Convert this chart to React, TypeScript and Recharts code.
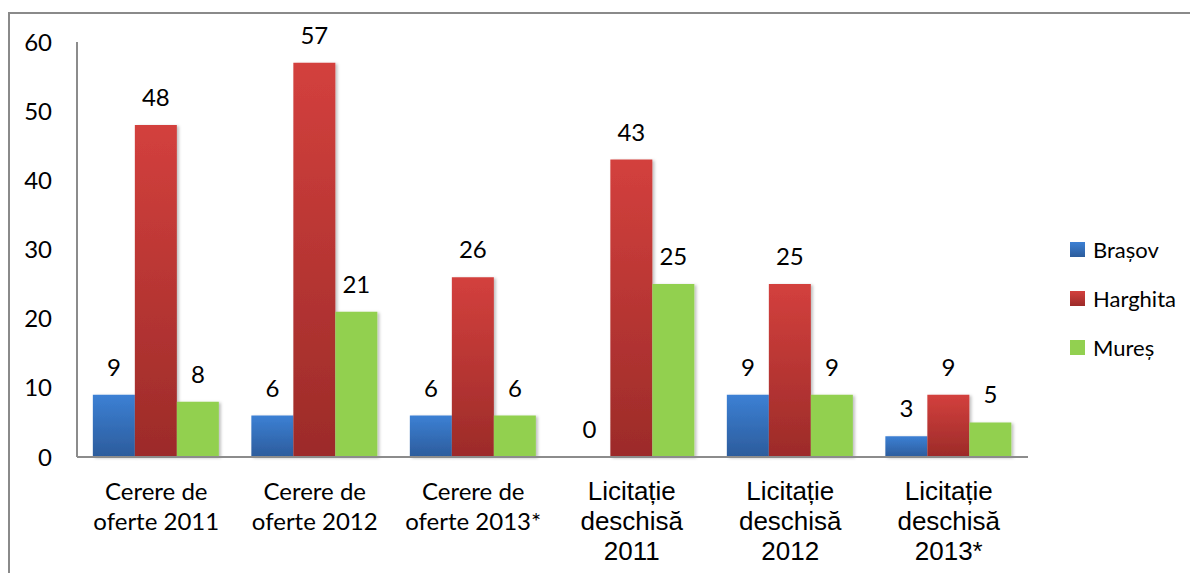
import { BarChart, Bar, XAxis, YAxis, Legend, LabelList } from 'recharts';

const categories = [
  'Cerere de\noferte 2011',
  'Cerere de\noferte 2012',
  'Cerere de\noferte 2013*',
  'Licitație\ndeschisă\n2011',
  'Licitație\ndeschisă\n2012',
  'Licitație\ndeschisă\n2013*',
];
const brasov = [9, 6, 6, 0, 9, 3];
const harghita = [48, 57, 26, 43, 25, 9];
const mures = [8, 21, 6, 25, 9, 5];
const yTicks = [0, 10, 20, 30, 40, 50, 60];

const seriesInfo = [
  { key: 'brasov', name: 'Brașov', fill: 'url(#gBlue)', swatch: 'url(#gBlueL)' },
  { key: 'harghita', name: 'Harghita', fill: 'url(#gRed)', swatch: 'url(#gRedL)' },
  { key: 'mures', name: 'Mureș', fill: '#92d050', swatch: '#92d050' },
];

const data = categories.map((c, i) => ({
  name: c,
  brasov: brasov[i],
  harghita: harghita[i],
  mures: mures[i],
}));

const calibri = 'Lato, "Open Sans", sans-serif';
const arial = '"Liberation Sans", Arial, sans-serif';

function CategoryTick(props: any) {
  const { x, y, payload } = props;
  const lines = String(payload.value).split('\n');
  const isArial = lines[0].startsWith('Licita');
  return (
    <text
      x={x}
      y={y}
      textAnchor="middle"
      fill="#000"
      fontFamily={isArial ? arial : calibri}
      fontSize={isArial ? 26 : 24}
    >
      {lines.map((l, i) => (
        <tspan key={i} x={x} y={y + 43 + i * 30}>
          {l}
        </tspan>
      ))}
    </text>
  );
}

// value label above each bar (also for zero-height bars)
function ValueLabel(props: any) {
  const { x, y, width, value } = props;
  if (value === undefined || value === null) return null;
  return (
    <text
      x={Number(x) + Number(width) / 2}
      y={Number(y) - 19}
      textAnchor="middle"
      fill="#000"
      fontFamily={calibri}
      fontSize={24}
    >
      {value}
    </text>
  );
}

function LegendBox() {
  return (
    <div style={{ fontFamily: calibri, fontSize: 22, color: '#000' }}>
      {seriesInfo.map((s) => (
        <div key={s.key} style={{ display: 'flex', alignItems: 'center', height: 49 }}>
          <svg width={15} height={15} style={{ marginRight: 8 }}>
            <defs>
              <linearGradient id="gBlueL" x1="0" y1="0" x2="0" y2="1">
                <stop offset="0%" stopColor="#3c80d4" />
                <stop offset="100%" stopColor="#2c5c9c" />
              </linearGradient>
              <linearGradient id="gRedL" x1="0" y1="0" x2="0" y2="1">
                <stop offset="0%" stopColor="#d3403d" />
                <stop offset="100%" stopColor="#9c2b29" />
              </linearGradient>
            </defs>
            <rect width={15} height={15} fill={s.swatch} />
          </svg>
          <span>{s.name}</span>
        </div>
      ))}
    </div>
  );
}

export default function App() {
  return (
    <div
      style={{
        marginTop: 4,
        borderLeft: '2px solid #8a8a8a',
        borderTop: '2px solid #8a8a8a',
        width: 1200,
        height: 561,
        overflow: 'hidden',
      }}
    >
      <BarChart
        width={1200}
        height={559}
        data={data}
        margin={{ top: 28, right: 42, left: 0, bottom: 16 }}
        barCategoryGap="10%"
        barGap={0}
      >
        <defs>
          <linearGradient id="gBlue" x1="0" y1="0" x2="0" y2="1">
            <stop offset="0%" stopColor="#3c80d4" />
            <stop offset="100%" stopColor="#2c5c9c" />
          </linearGradient>
          <linearGradient id="gRed" x1="0" y1="0" x2="0" y2="1">
            <stop offset="0%" stopColor="#d3403d" />
            <stop offset="100%" stopColor="#9c2b29" />
          </linearGradient>
          <filter id="shadow" x="-10%" y="-10%" width="130%" height="130%">
            <feDropShadow dx="2" dy="1" stdDeviation="1.5" floodColor="#000" floodOpacity="0.25" />
          </filter>
        </defs>
        <XAxis
          dataKey="name"
          axisLine={{ stroke: '#8c8c8c', strokeWidth: 2 }}
          tickLine={false}
          tickSize={0}
          tickMargin={0}
          height={100}
          interval={0}
          tick={<CategoryTick />}
        />
        <YAxis
          domain={[0, 60]}
          ticks={yTicks}
          width={67}
          axisLine={{ stroke: '#8c8c8c', strokeWidth: 2 }}
          tickLine={false}
          tickSize={0}
          tickMargin={25}
          tick={{ fill: '#000', fontFamily: calibri, fontSize: 24 }}
        />
        <Legend
          layout="vertical"
          verticalAlign="top"
          align="right"
          wrapperStyle={{ left: 1060, top: 211, width: 140 }}
          content={<LegendBox />}
        />
        {seriesInfo.map((s) => (
          <Bar
            key={s.key}
            dataKey={s.key}
            name={s.name}
            fill={s.fill}
            filter="url(#shadow)"
            minPointSize={(v: number) => (v === 0 ? 0.01 : 0)}
            isAnimationActive={false}
          >
            <LabelList dataKey={s.key} content={<ValueLabel />} />
          </Bar>
        ))}
      </BarChart>
    </div>
  );
}
